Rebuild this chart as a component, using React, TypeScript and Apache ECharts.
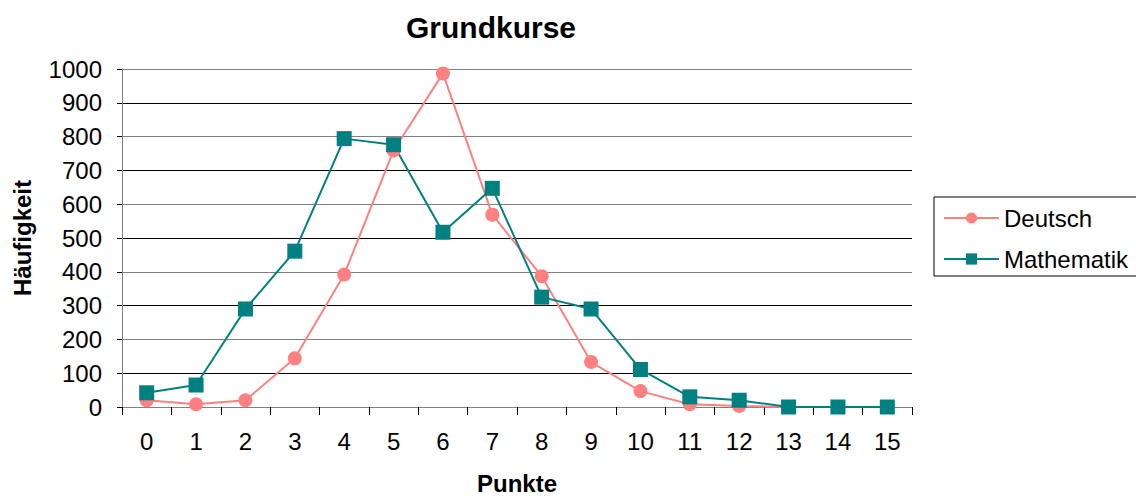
import React, { useEffect, useRef } from "react";
import * as echarts from "echarts";

const categories = ["0", "1", "2", "3", "4", "5", "6", "7", "8", "9", "10", "11", "12", "13", "14", "15"];
const deutsch = [20, 8, 20, 144, 392, 759, 987, 569, 387, 133, 47, 8, 3, 0, 0, 0];
const mathematik = [42, 65, 290, 461, 794, 776, 517, 647, 325, 290, 111, 30, 20, 0, 0, 0];

const FONT = "'Liberation Sans', Arial, sans-serif";

export default function App() {
  const ref = useRef<HTMLDivElement>(null);
  useEffect(() => {
    if (!ref.current) return;
    const chart = echarts.init(ref.current, null, { renderer: "svg" });
    chart.setOption({
      animation: false,
      backgroundColor: "#ffffff",
      textStyle: { fontFamily: FONT },
      title: {
        text: "Grundkurse",
        left: 486,
        top: 7,
        textAlign: "center",
        textStyle: { fontSize: 30, fontWeight: "bold", color: "#000", fontFamily: FONT },
      },
      legend: {
        orient: "vertical",
        left: 934,
        top: 197,
        padding: [9, 30, 5, 9],
        itemGap: 17,
        itemWidth: 55,
        itemHeight: 14,
        borderColor: "#000",
        borderWidth: 1,
        textStyle: { fontSize: 24, color: "#000", fontFamily: FONT },
        data: ["Deutsch", "Mathematik"],
      },
      grid: {
        left: 122,
        right: 224,
        top: 69,
        bottom: 91,
        containLabel: false,
        outerBoundsMode: "none",
      },
      xAxis: {
        type: "category",
        data: categories,
        boundaryGap: true,
        name: "Punkte",
        nameLocation: "middle",
        nameGap: 64,
        nameTextStyle: {
          fontSize: 24,
          fontWeight: "bold",
          color: "#000",
          fontFamily: FONT,
        },
        axisLine: { lineStyle: { color: "#808080", width: 1 } },
        axisTick: { show: true, alignWithLabel: false, length: 8, lineStyle: { color: "#000" } },
        axisLabel: { fontSize: 24, color: "#000", margin: 22, fontFamily: FONT },
      },
      yAxis: {
        type: "value",
        min: 0,
        max: 1000,
        interval: 100,
        name: "Häufigkeit",
        nameLocation: "middle",
        nameGap: 88,
        nameTextStyle: { fontSize: 24, fontWeight: "bold", color: "#000", fontFamily: FONT },
        axisLine: { show: true, lineStyle: { color: "#808080", width: 1 } },
        axisTick: { show: true, length: 5, lineStyle: { color: "#000" } },
        axisLabel: {
          fontSize: 24,
          color: "#000",
          margin: 20,
          fontFamily: FONT,
          formatter: (v: number) => String(v),
        },
        splitLine: { show: true, lineStyle: { color: ["#808080", "#000000"], width: 1 } },
      },
      series: [
        {
          name: "Deutsch",
          type: "line",
          data: deutsch,
          symbol: "circle",
          symbolSize: 14,
          color: "#FF8080",
          lineStyle: { color: "#FF8080", width: 2 },
          itemStyle: { color: "#FF8080" },
        },
        {
          name: "Mathematik",
          type: "line",
          data: mathematik,
          symbol: "rect",
          symbolSize: 15,
          color: "#008080",
          lineStyle: { color: "#008080", width: 2 },
          itemStyle: { color: "#008080" },
        },
      ],
    });
    return () => chart.dispose();
  }, []);
  return <div ref={ref} style={{ width: 1136, height: 498, position: "absolute", left: 0, top: 0 }} />;
}
